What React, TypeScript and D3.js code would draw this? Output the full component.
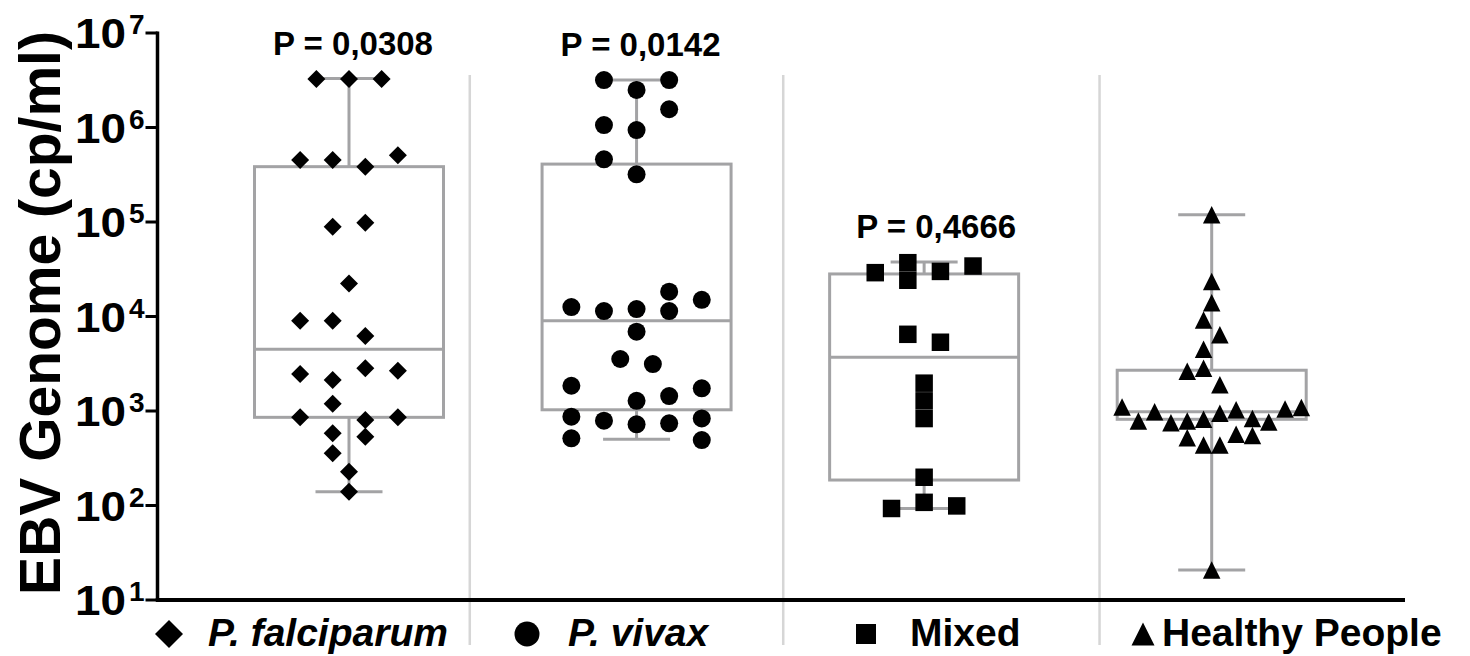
import React from 'react'
import * as d3 from 'd3'

// categories and annotations
const groups = ['P. falciparum', 'P. vivax', 'Mixed', 'Healthy People']
const groupItalic = [true, true, false, false]
const groupShapes = ['diamond', 'circle', 'square', 'triangle']
const pLabels = ['P = 0,0308', 'P = 0,0142', 'P = 0,4666', '']

// EBV copies per ml, with swarm slot (column) of each point
const falciparumValues = [
  3.26e6, 3.26e6, 3.26e6,
  4.53e5, 4.53e5, 3.85e5, 5.1e5,
  8.9e4, 9.8e4,
  2.24e4,
  9.0e3, 9.0e3, 6.2e3,
  2.46e3, 2.13e3, 2.83e3, 2.67e3,
  1.19e3,
  857, 803, 857,
  581, 535,
  357,
  228,
  140,
]
const falciparumSlots = [
  -4, 0, 4,
  -6, -2, 2, 6,
  -2, 2,
  0,
  -6, -2, 2,
  -6, -2, 2, 6,
  -2,
  -6, 2, 6,
  -2, 2,
  -2,
  0,
  0,
]

const vivaxValues = [
  3.18e6, 3.18e6,
  2.5e6,
  1.56e6,
  1.06e6,
  9.4e5,
  4.6e5,
  3.2e5,
  1.83e4,
  1.5e4,
  1.26e4, 1.14e4, 1.2e4, 1.14e4,
  6.9e3,
  3.55e3, 3.14e3,
  1.85e3, 1.28e3, 1.44e3, 1.74e3,
  871, 789, 722, 740, 835,
  514, 493,
]
const vivaxSlots = [
  -4, 4,
  0,
  4,
  -4,
  0,
  -4,
  0,
  4,
  8,
  -8, -4, 0, 4,
  0,
  -2, 2,
  -8, 0, 4, 8,
  -8, -4, 0, 4, 8,
  -8, 8,
]

const mixedValues = [
  2.91e4, 3.71e4, 2.42e4, 3.0e4, 3.42e4,
  6.48e3, 5.34e3,
  1.97e3, 1.28e3, 832,
  199,
  108,
  93, 99,
]
const mixedSlots = [
  -6, -2, -2, 2, 6,
  -2, 2,
  0, 0, 0,
  0,
  0,
  -4, 4,
]

const healthyValues = [
  1.19e5, 2.34e4, 1.4e4, 9.2e3, 6.4e3, 4.5e3, 2.83e3, 2.63e3, 1.9e3,
  1.1e3, 783, 984, 751, 783, 817, 946, 1.03e3, 835, 765, 1.05e3, 1.09e3,
  521, 436, 436, 567, 550,
  20.8,
]
const healthySlots = [
  0, 0, 0, -1, 1, -1, -1, -3, 1,
  -11, -9, -7, -5, -3, -1, 1, 3, 5, 7, 9, 11,
  -3, -1, 1, 3, 5,
  0,
]

// box plot statistics
const boxMin = [140, 501, 93, 20.8]
const boxQ1 = [857, 1030, 186, 817]
const boxMedian = [4500, 9000, 3700, 984]
const boxQ3 = [3.85e5, 4.1e5, 2.82e4, 2.7e3]
const boxMax = [3.3e6, 3.18e6, 3.78e4, 1.19e5]

const yTicks = [1e1, 1e2, 1e3, 1e4, 1e5, 1e6, 1e7]
// group separators, in category units
const separators = [0.42, 1.51, 2.61]

const allValues = [falciparumValues, vivaxValues, mixedValues, healthyValues]
const allSlots = [falciparumSlots, vivaxSlots, mixedSlots, healthySlots]

const FONT = '"Liberation Sans", Arial, Helvetica, sans-serif'
const BOX = '#a3a3a5'
const SEP = '#d6d6d6'

const marker = (shape: string, x: number, y: number, s: number) => {
  const h = s / 2
  if (shape === 'diamond') return `M${x},${y - h}L${x + h},${y}L${x},${y + h}L${x - h},${y}Z`
  if (shape === 'square') return `M${x - h},${y - h}h${s}v${s}h${-s}Z`
  if (shape === 'triangle') return `M${x},${y - h}L${x + h},${y + h}L${x - h},${y + h}Z`
  return `M${x - h},${y}a${h},${h} 0 1,0 ${s},0a${h},${h} 0 1,0 ${-s},0Z`
}

const App = () => {
  const width = 1470
  const height = 656

  const x = d3.scaleLinear().domain([0, 3]).range([349, 1211.7])
  const y = d3.scaleLog().domain([10, 1e7]).range([600, 33])
  const slotStep = 8.15
  const boxHalf = 94.5
  const capHalf = 33.5
  const markerSize = [18, 18, 17.5, 17.5]

  const axisX = 157.5

  const legendMarkX = [169, 527, 866, 1143]
  const legendTextX = [208, 568, 910, 1162]
  const legendMarkSize = [28, 25, 20, 23]

  return (
    <svg width={width} height={height} style={{ position: 'absolute', left: 0, top: 0 }} fontFamily={FONT}>
      <rect width={width} height={height} fill="white" />

      {separators.map((s, i) => (
        <line key={'sep' + i} x1={x(s)} x2={x(s)} y1={75} y2={645} stroke={SEP} strokeWidth={2.5} />
      ))}

      {groups.map((g, i) => {
        const cx = x(i)
        return (
          <g key={'box' + i} stroke={BOX} strokeWidth={3} fill="none">
            <line x1={cx} x2={cx} y1={y(boxQ3[i])} y2={y(boxMax[i])} />
            <line x1={cx} x2={cx} y1={y(boxQ1[i])} y2={y(boxMin[i])} />
            <line x1={cx - capHalf} x2={cx + capHalf} y1={y(boxMax[i])} y2={y(boxMax[i])} />
            <line x1={cx - capHalf} x2={cx + capHalf} y1={y(boxMin[i])} y2={y(boxMin[i])} />
            <rect x={cx - boxHalf} y={y(boxQ3[i])} width={boxHalf * 2} height={y(boxQ1[i]) - y(boxQ3[i])} fill="none" />
            <line x1={cx - boxHalf} x2={cx + boxHalf} y1={y(boxMedian[i])} y2={y(boxMedian[i])} />
          </g>
        )
      })}

      {allValues.map((vals, i) => (
        <g key={'pts' + i} fill="black">
          {vals.map((v, j) => (
            <path key={j} d={marker(groupShapes[i], x(i) + allSlots[i][j] * slotStep, y(v), markerSize[i])} />
          ))}
        </g>
      ))}

      {pLabels.map((p, i) =>
        p ? (
          <text key={'p' + i} x={x(i) + (i === 2 ? 12 : 4)} y={y(boxMax[i]) - 24} textAnchor="middle" fontSize={33} fontWeight="bold">
            {p}
          </text>
        ) : null
      )}

      {/* axes */}
      <line x1={axisX} x2={axisX} y1={y(1e7) - 1.5} y2={y(10)} stroke="black" strokeWidth={3.5} />
      <line x1={axisX - 1.75} x2={1405} y1={y(10)} y2={y(10)} stroke="black" strokeWidth={4} />
      {yTicks.map((t, i) => (
        <g key={'t' + i}>
          <line x1={axisX - 12} x2={axisX} y1={y(t)} y2={y(t)} stroke="black" strokeWidth={3} />
          <text x={75} y={y(t) + 15} fontSize={42} fontWeight="bold" textLength={51} lengthAdjust="spacingAndGlyphs">10</text>
          <text x={129} y={y(t) + 1} fontSize={28} fontWeight="bold">{Math.round(Math.log10(t))}</text>
        </g>
      ))}

      <text
        transform={`translate(60, ${(28 + 598) / 2}) rotate(-90)`}
        textAnchor="middle"
        fontSize={57}
        fontWeight="bold"
      >
        EBV Genome (cp/ml)
      </text>

      {groups.map((g, i) => (
        <g key={'leg' + i}>
          <path d={marker(groupShapes[i], legendMarkX[i], 634, legendMarkSize[i])} fill="black" />
          <text x={legendTextX[i]} y={646} fontSize={39} fontWeight="bold" fontStyle={groupItalic[i] ? 'italic' : 'normal'}>
            {g}
          </text>
        </g>
      ))}
    </svg>
  )
}

export default App
